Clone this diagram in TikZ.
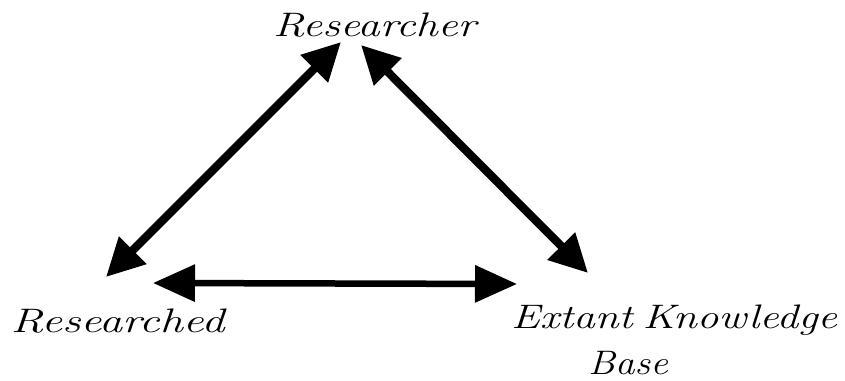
\documentclass[tikz,border=0pt]{standalone}
\usepackage{fontspec}
\usepackage{graphicx}
\usetikzlibrary{arrows.meta}
\newcommand{\hw}[2][1.3]{\scalebox{#1}[1]{#2}}
\tikzset{
  lbl/.style={inner sep=0pt, font=\fontsize{34}{46}\selectfont\itshape},
  diag/.style={line width=8.3pt, {Triangle[length=38pt,width=37pt]}-{Triangle[length=38pt,width=37pt]}},
  horiz/.style={line width=6.5pt, {Triangle[length=42pt,width=36pt]}-{Triangle[length=42pt,width=36pt]}}
}
\begin{document}
\begin{tikzpicture}[x=1pt,y=1pt]
\useasboundingbox (0,0) rectangle (845,380);
\node[lbl, anchor=base] (rer) at (374.5,343) {\hw{Researcher}};
\node[lbl, anchor=base] (red) at (117.5,48) {\hw[1.36]{Researched}};
\node[lbl, anchor=base west, align=left] (ekb) at (511,6) {\hw[1.27]{Extant\hspace{-4pt} Knowledge}\\\hspace*{77pt}\hw[1.15]{Base}};
\coordinate (a1) at (341,338);
\coordinate (a2) at (106,103);
\coordinate (b1) at (361,335);
\coordinate (b2) at (588,107);
\coordinate (c1) at (153,97);
\coordinate (c2) at (517,96);
\draw[diag] (a1) -- (a2);
\draw[diag] (b1) -- (b2);
\draw[horiz] (c1) -- (c2);
\end{tikzpicture}
\end{document}
